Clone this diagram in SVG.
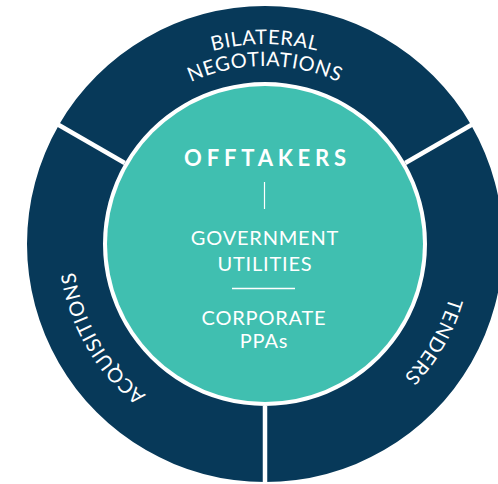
<svg xmlns="http://www.w3.org/2000/svg" xmlns:xlink="http://www.w3.org/1999/xlink" width="498" height="484" viewBox="0 0 498 484">
<style>
.seg{fill:#073959}
.ring{font-family:Lato,"Noto Sans",sans-serif;font-size:20px;fill:#ffffff;letter-spacing:0.6px}
.core{font-family:Lato,"Noto Sans",sans-serif;font-size:20px;fill:#ffffff;text-anchor:middle;letter-spacing:0.8px}
.title{font-family:Lato,"Noto Sans",sans-serif;font-size:22px;font-weight:bold;fill:#ffffff;text-anchor:middle;letter-spacing:4.8px}
.div{stroke:#ffffff;stroke-width:4.5;fill:none}
.sep{stroke:#ffffff;fill:none}
</style>
<defs>
<path id="pBil" d="M 77.06 175.6 A 200 200 0 0 1 452.94 175.6"/>
<path id="pNeg" d="M 97.73 183.12 A 178 178 0 0 1 432.27 183.12"/>
<path id="pTen" d="M 445.42 178.33 A 192 192 0 0 1 298.34 433.08"/>
<path id="pAcq" d="M 231.66 433.08 A 192 192 0 0 1 84.58 178.33"/>
</defs>
<rect width="498" height="484" fill="#ffffff"/>
<g id="bilateral">
<path class="seg" d="M 58.886 125 A 238 238 0 0 1 471.114 125 L 405.296 163 A 162 162 0 0 0 124.704 163 Z"/>
<text class="ring"><textPath xlink:href="#pBil" href="#pBil" startOffset="50%" text-anchor="middle">BILATERAL</textPath></text>
<text class="ring"><textPath xlink:href="#pNeg" href="#pNeg" startOffset="50%" text-anchor="middle">NEGOTIATIONS</textPath></text>
</g>
<g id="tenders">
<path class="seg" d="M 471.114 125 A 238 238 0 0 1 265 482 L 265 406 A 162 162 0 0 0 405.296 163 Z"/>
<text class="ring"><textPath xlink:href="#pTen" href="#pTen" startOffset="50%" text-anchor="middle">TENDERS</textPath></text>
</g>
<g id="acquisitions">
<path class="seg" d="M 265 482 A 238 238 0 0 1 58.886 125 L 124.704 163 A 162 162 0 0 0 265 406 Z"/>
<text class="ring"><textPath xlink:href="#pAcq" href="#pAcq" startOffset="50%" text-anchor="middle">ACQUISITIONS</textPath></text>
</g>
<g id="dividers">
<line class="div" x1="124.704" y1="163" x2="54" y2="122.2"/>
<line class="div" x1="405.296" y1="163" x2="476" y2="122.2"/>
<line class="div" x1="265" y1="406" x2="265" y2="484"/>
</g>
<g id="offtakers">
<circle cx="265" cy="244" r="158" fill="#40bfb0"/>
<text class="title" x="267.5" y="166">OFFTAKERS</text>
<line class="sep" x1="264.5" y1="182" x2="264.5" y2="209" stroke-width="1.2"/>
<text class="core" x="265" y="245">GOVERNMENT</text>
<text class="core" x="265" y="271">UTILITIES</text>
<line class="sep" x1="232" y1="288.5" x2="295" y2="288.5" stroke-width="1.5"/>
<text class="core" x="264" y="325">CORPORATE</text>
<text class="core" x="264" y="348">PPAs</text>
</g>
</svg>
